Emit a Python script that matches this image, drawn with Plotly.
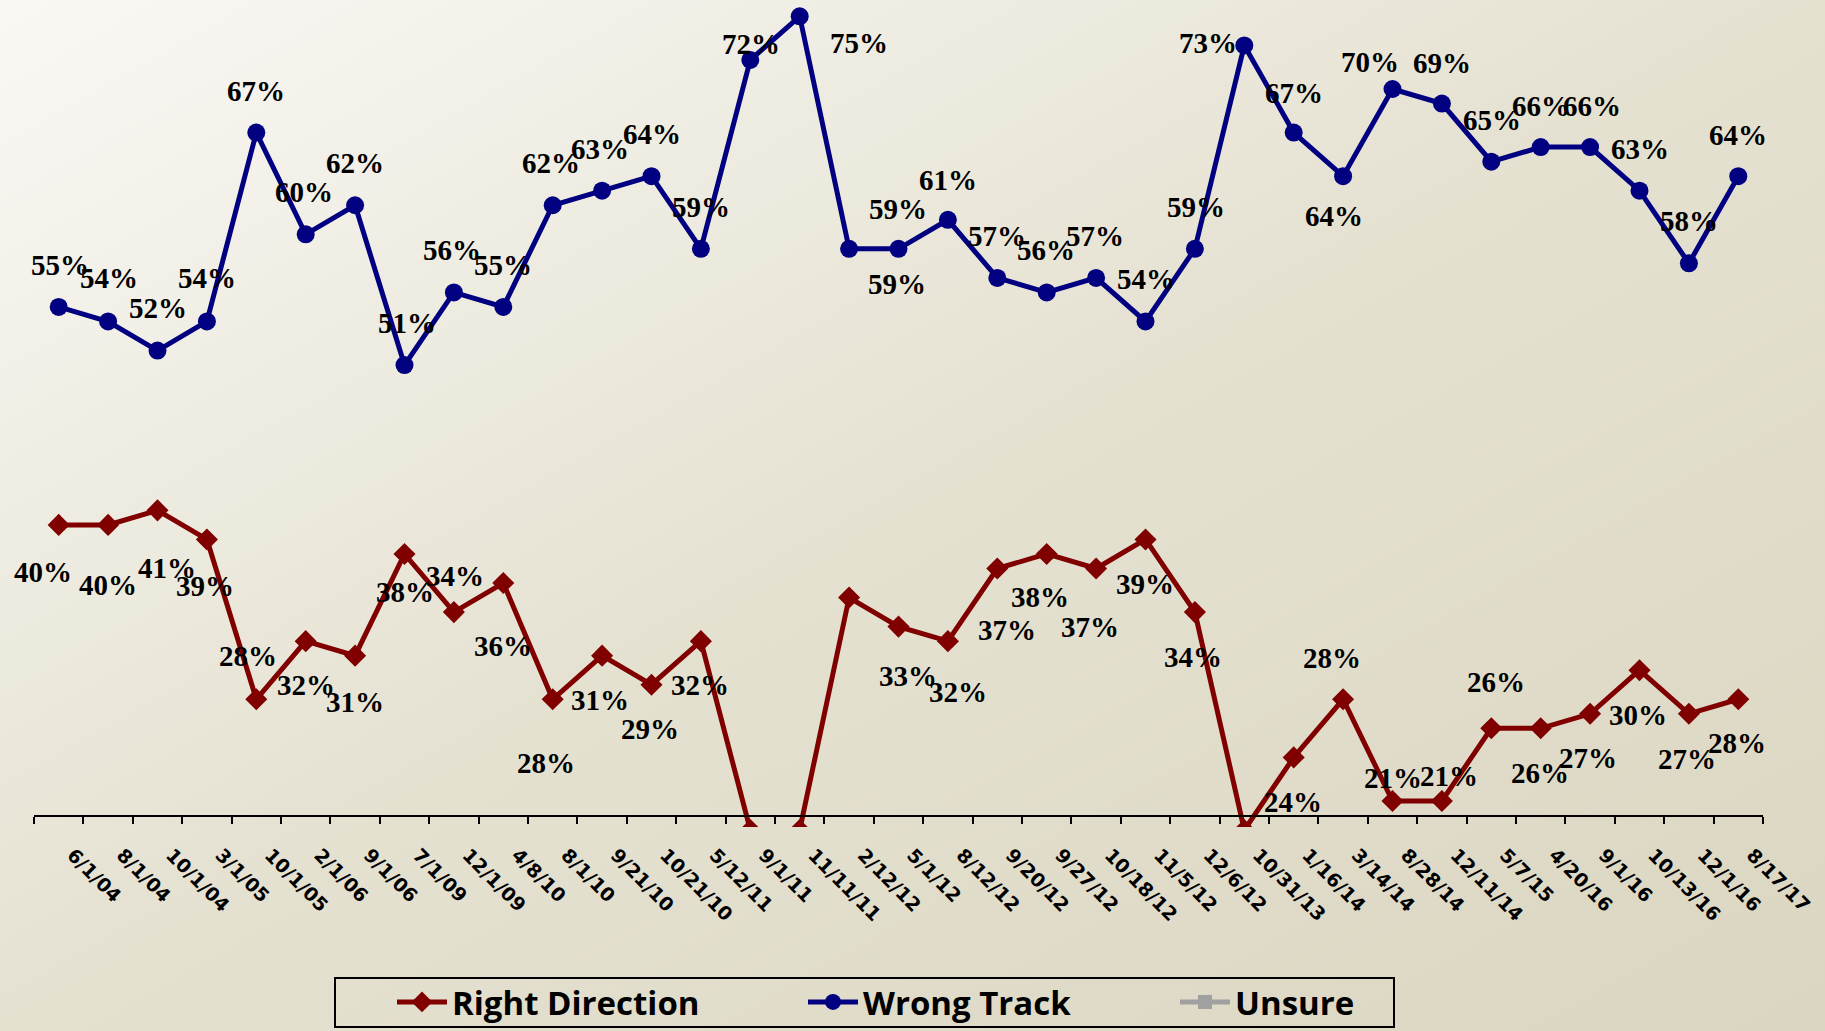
import base64
import plotly.graph_objects as go

# ---------------- data ----------------
dates = ["6/1/04", "8/1/04", "10/1/04", "3/1/05", "10/1/05", "2/1/06", "9/1/06",
         "7/1/09", "12/1/09", "4/8/10", "8/1/10", "9/21/10", "10/21/10", "5/12/11",
         "9/1/11", "11/11/11", "2/12/12", "5/1/12", "8/12/12", "9/20/12", "9/27/12",
         "10/18/12", "11/5/12", "12/6/12", "10/31/13", "1/16/14", "3/14/14",
         "8/28/14", "12/11/14", "5/7/15", "4/20/16", "9/1/16", "10/13/16",
         "12/1/16", "8/17/17"]

right_direction = [40, 40, 41, 39, 28, 32, 31, 38, 34, 36, 28, 31, 29, 32, 19, 19,
                   35, 33, 32, 37, 38, 37, 39, 34, 19, 24, 28, 21, 21, 26, 26, 27,
                   30, 27, 28]
wrong_track = [55, 54, 52, 54, 67, 60, 62, 51, 56, 55, 62, 63, 64, 59, 72, 75,
               59, 59, 61, 57, 56, 57, 54, 59, 73, 67, 64, 70, 69, 65, 66, 66,
               63, 58, 64]
unsure = [None] * len(dates)

# ---------------- label placement (pixel offsets, style only) ----------------
wt_label_offsets = [(1, -42), (1, -43), (0, -43), (0, -43), (0, -42), (-2, -42),
                    (0, -42), (2, -42), (-2, -42), (0, -42), (-2, -42), (-2, -42),
                    (0, -42), (0, -42), (1, -16), (59, 27), (49, -40), (-2, 35),
                    (0, -40), (0, -42), (-1, -42), (-1, -42), (0, -42), (1, -42),
                    (-36, -2), (0, -40), (-9, 40), (-23, -27), (0, -41), (1, -42),
                    (0, -41), (2, -41), (0, -42), (0, -42), (0, -41)]
rd_label_offsets = [(-16, 47), (0, 60), (9, 58), (-2, 47), (-8, -43), (0, 44),
                    (0, 46), (0, 38), (1, -36), (0, 63), (-7, 64), (-2, 44),
                    (-2, 44), (-1, 44), None, None, None, (9, 49), (10, 51),
                    (10, 62), (-7, 43), (-6, 59), (-1, 45), (-2, 45), None,
                    (-1, 45), (-11, -41), (0, -23), (7, -25), (5, -46), (-1, 45),
                    (-2, 44), (-2, 45), (-2, 45), (-1, 44)]

# ---------------- geometry ----------------
W, H = 1825, 1031
ML, MR, MT, MB = 34, 62, 0, 204
PW, PH = W - ML - MR, H - MT - MB
PX_PER_UNIT = 14.53
AXIS_Y_PX = 815.5          # pixel row of the value-20 axis line
Y_MIN = 20 - (PH - AXIS_Y_PX) / PX_PER_UNIT
Y_MAX = 20 + AXIS_Y_PX / PX_PER_UNIT


def px_x(x):
    return (x - ML) / PW


def px_y(y):
    return (MT + PH - y) / PH


RD_COLOR = "#800000"
WT_COLOR = "#000080"
UN_COLOR = "#a0a0a0"

fig = go.Figure()

fig.add_trace(go.Scatter(
    x=dates, y=right_direction, name="Right Direction", mode="lines+markers",
    line=dict(color=RD_COLOR, width=5),
    marker=dict(symbol="diamond", size=17, color=RD_COLOR),
    legend="legend", hoverinfo="x+y"))
fig.add_trace(go.Scatter(
    x=dates, y=wrong_track, name="Wrong Track", mode="lines+markers",
    line=dict(color=WT_COLOR, width=5),
    marker=dict(symbol="circle", size=18, color=WT_COLOR),
    legend="legend2", hoverinfo="x+y"))
fig.add_trace(go.Scatter(
    x=dates, y=unsure, name="Unsure", mode="lines+markers",
    line=dict(color=UN_COLOR, width=5),
    marker=dict(symbol="square", size=14, color=UN_COLOR),
    legend="legend3", hoverinfo="x+y"))

label_font = dict(family="Liberation Serif, Times New Roman, serif", size=29,
                  color="black", weight="bold")
annotations = []
for series, offsets in ((wrong_track, wt_label_offsets),
                        (right_direction, rd_label_offsets)):
    for d, v, off in zip(dates, series, offsets):
        if off is None:
            continue
        annotations.append(dict(
            x=d, y=v, xref="x", yref="y", text=f"{v}%", showarrow=False,
            xanchor="center", yanchor="middle", xshift=off[0], yshift=-off[1],
            font=label_font))

# background gradient
svg = ('<svg xmlns="http://www.w3.org/2000/svg" width="1825" height="1031">'
       '<defs><linearGradient id="g" x1="0" y1="0" x2="1" y2="1">'
       '<stop offset="0" stop-color="#f9f8f4"/>'
       '<stop offset="0.5" stop-color="#e5e1d1"/>'
       '<stop offset="1" stop-color="#dbd6c1"/>'
       '</linearGradient></defs>'
       '<rect width="1825" height="1031" fill="url(#g)"/></svg>')
bg_src = "data:image/svg+xml;base64," + base64.b64encode(svg.encode()).decode()

legend_font = dict(family="Open Sans, Liberation Sans, sans-serif", size=33,
                   color="black", weight="bold")
legend_common = dict(orientation="h", xanchor="left", yanchor="middle",
                     bgcolor="rgba(0,0,0,0)", borderwidth=0, font=legend_font,
                     itemwidth=50, y=px_y(1002))

fig.update_layout(
    width=W, height=H,
    margin=dict(l=ML, r=MR, t=MT, b=MB, pad=0),
    paper_bgcolor="#e6e2d3",
    plot_bgcolor="rgba(0,0,0,0)",
    showlegend=True,
    legend=dict(x=px_x(392), **legend_common),
    legend2=dict(x=px_x(803), **legend_common),
    legend3=dict(x=px_x(1175), **legend_common),
    xaxis=dict(
        type="category", categoryorder="array", categoryarray=dates,
        range=[-0.5, len(dates) - 0.5],
        anchor="free", position=(PH - AXIS_Y_PX) / PH,
        showline=True, linecolor="black", linewidth=2,
        ticks="outside", ticklen=7, tickwidth=1.5, tickcolor="black",
        tickson="boundaries", tickangle=45, ticklabelstandoff=20,
        ticklabelshift=14,
        tickfont=dict(family="DejaVu Sans, sans-serif", size=19, color="black",
                      weight="bold"),
        showgrid=False, zeroline=False),
    yaxis=dict(range=[Y_MIN, Y_MAX], visible=False, showgrid=False,
               zeroline=False),
    annotations=annotations,
    images=[dict(source=bg_src, xref="paper", yref="paper",
                 x=-ML / PW, y=1 + MT / PH, sizex=W / PW, sizey=H / PH,
                 xanchor="left", yanchor="top", sizing="stretch",
                 layer="below")],
    shapes=[dict(type="rect", xref="paper", yref="paper",
                 x0=px_x(335), x1=px_x(1394), y0=px_y(1027), y1=px_y(978),
                 line=dict(color="black", width=2), fillcolor="rgba(0,0,0,0)")],
)

fig.write_html(
    "out.html",
    config={"displayModeBar": False},
    post_script="document.body.style.margin='0';"
                "document.body.style.overflow='hidden';")
